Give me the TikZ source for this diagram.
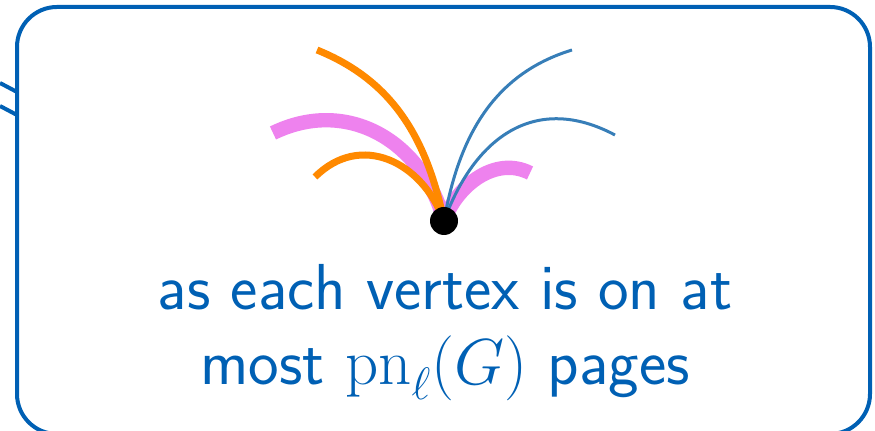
\RequirePackage{fix-cm}
\documentclass[tikz,border=0pt]{standalone}
\usepackage{amsmath}
\usepackage{xcolor}
\usetikzlibrary{positioning}
\definecolor{calloutblue}{RGB}{0,96,180}
\definecolor{pageorange}{RGB}{255,137,0}
\definecolor{pagepink}{RGB}{238,130,238}
\definecolor{pageblue}{RGB}{55,126,184}

\begin{document}
\begin{tikzpicture}[x=0.5pt, y=0.5pt,
    orangepage/.style={line width=3.5pt, pageorange},
    pinkpage/.style={line width=7.2pt, pagepink},
    bluepage/.style={line width=1.5pt, pageblue}]
    \useasboundingbox (0,0) rectangle (875,431);

    % tail of the callout
    \coordinate (tailA) at (0,348);
    \coordinate (tailB) at (0,325);
    \coordinate (tailAend) at (17,339);
    \coordinate (tailBend) at (17,316);
    \draw[calloutblue, line width=2pt] (tailA) -- (tailAend);
    \draw[calloutblue, line width=2pt] (tailB) -- (tailBend);
    \draw[calloutblue, line width=2pt, rounded corners=20pt] (17,-3) rectangle (870,424);

    % edges at the vertex
    \coordinate (v) at (444,210);
    \coordinate (pinkL) at (273,298);
    \coordinate (pinkR) at (530,258);
    \coordinate (orangeT) at (317,381);
    \coordinate (orangeL) at (315,254);
    \coordinate (blueT) at (572,381);
    \coordinate (blueR) at (615,296);
    \draw[pinkpage] (v) to[out=105, in=26, looseness=1.1] (pinkL);
    \draw[pinkpage] (v) to[out=70, in=153] (pinkR);
    \draw[orangepage] (v) to[out=110, in=45, looseness=1.2] (orangeL);
    \draw[orangepage] (v) to[out=102, in=-22] (orangeT);
    \draw[bluepage] (v) to[out=80, in=197] (blueT);
    \draw[bluepage] (v) to[out=70, in=152, looseness=1.2] (blueR);
    \node[circle, fill=black, inner sep=0pt, minimum size=14pt] (vtx) at (v) {};

    \node[font=\sffamily\fontsize{32.5}{37.5}\selectfont, text=calloutblue, align=center, anchor=base] (txt) at (445,46)
        {as each vertex is on at\\ most $\mathrm{pn}_\ell(G)$ pages};
\end{tikzpicture}
\end{document}
